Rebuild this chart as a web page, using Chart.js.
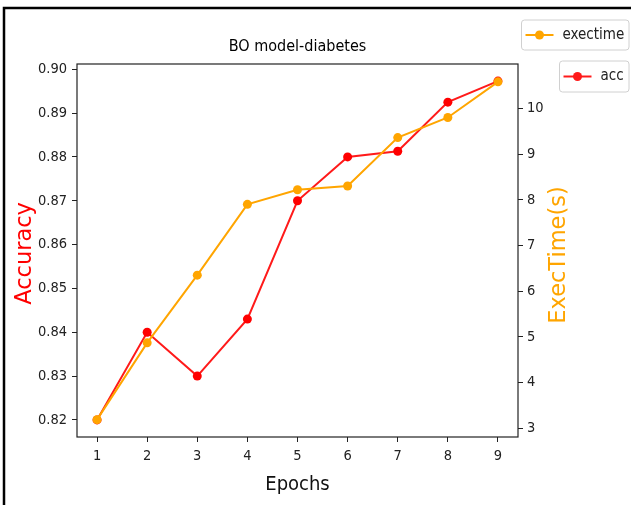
<!DOCTYPE html>
<html>
<head>
<meta charset="utf-8">
<script src="https://cdn.jsdelivr.net/npm/chart.js@4.4.0/dist/chart.umd.min.js"></script>
<style>
  body { margin: 0; background: #fff; }
  canvas { display: block; }
</style>
</head>
<body>
<canvas id="chart" width="631" height="505"></canvas>
<script>
const epochs    = [1, 2, 3, 4, 5, 6, 7, 8, 9]
const accuracy  = [0.820, 0.840, 0.830, 0.843, 0.870, 0.880, 0.8813, 0.8925, 0.8973]
const execTime  = [3.19, 4.87, 6.35, 7.90, 8.22, 8.30, 9.36, 9.80, 10.58]
const accTicks  = [0.82, 0.83, 0.84, 0.85, 0.86, 0.87, 0.88, 0.89, 0.90]
const timeTicks = [3, 4, 5, 6, 7, 8, 9, 10]

const RED = '#ff1a1a'
const ORANGE = '#ffa500'
const FONT = "'DejaVu Sans Condensed', 'DejaVu Sans', sans-serif"
const WIDE = "'DejaVu Sans', sans-serif"

Chart.defaults.font.family = FONT
Chart.defaults.color = '#222'

// title, outer frame, axes box, y axis titles and the two legends
const decor = {
    id: 'decor',
    afterDraw(chart) {
        const { ctx, chartArea: a } = chart
        ctx.save()

        ctx.strokeStyle = '#000'
        ctx.lineWidth = 2.5
        ctx.beginPath()
        ctx.moveTo(4, 505)
        ctx.lineTo(4, 8)
        ctx.lineTo(631, 8)
        ctx.stroke()

        ctx.strokeStyle = '#222'
        ctx.lineWidth = 1.2
        ctx.strokeRect(a.left, a.top, a.right - a.left, a.bottom - a.top)

        ctx.fillStyle = '#000'
        ctx.font = `16px ${FONT}`
        ctx.textAlign = 'center'
        ctx.textBaseline = 'middle'
        ctx.fillText('BO model-diabetes', (a.left + a.right) / 2, 47)

        drawVertical(ctx, 'Accuracy', '#ff0000', 31, 253.5)
        drawVertical(ctx, 'ExecTime(s)', ORANGE, 565, 255)

        drawLegend(ctx, 521.5, 20, 107.5, 30, ORANGE, 'exectime')
        drawLegend(ctx, 559.5, 61, 69.5, 31, RED, 'acc')
        ctx.restore()
    }
}

function drawVertical(ctx, text, color, x, y) {
    ctx.save()
    ctx.translate(x, y)
    ctx.rotate(-Math.PI / 2)
    ctx.fillStyle = color
    ctx.font = `22.5px ${WIDE}`
    ctx.textAlign = 'center'
    ctx.textBaseline = 'alphabetic'
    ctx.fillText(text, 0, 0)
    ctx.restore()
}

function drawLegend(ctx, x, y, w, h, color, label) {
    ctx.fillStyle = 'rgba(255,255,255,0.8)'
    ctx.strokeStyle = '#d0d0d0'
    ctx.lineWidth = 1
    ctx.beginPath()
    ctx.roundRect(x, y, w, h, 3)
    ctx.fill()
    ctx.stroke()

    const cy = y + h / 2
    ctx.strokeStyle = color
    ctx.lineWidth = 2
    ctx.beginPath()
    ctx.moveTo(x + 4, cy)
    ctx.lineTo(x + 32, cy)
    ctx.stroke()
    ctx.fillStyle = color
    ctx.beginPath()
    ctx.arc(x + 18, cy, 4.5, 0, Math.PI * 2)
    ctx.fill()

    ctx.fillStyle = '#222'
    ctx.font = `15px ${FONT}`
    ctx.textAlign = 'left'
    ctx.textBaseline = 'middle'
    ctx.fillText(label, x + 41, cy)
}

const tickGrid = {
    display: true,
    drawOnChartArea: false,
    drawTicks: true,
    tickLength: 5,
    tickColor: '#222',
    tickWidth: 1
}

new Chart(document.getElementById('chart'), {
    type: 'line',
    data: {
        datasets: [
            {
                label: 'exectime',
                data: epochs.map((e, i) => ({ x: e, y: execTime[i] })),
                yAxisID: 'yTime',
                borderColor: ORANGE,
                backgroundColor: ORANGE,
                borderWidth: 2,
                pointRadius: 4.5,
                pointBorderWidth: 0,
                tension: 0
            },
            {
                label: 'acc',
                data: epochs.map((e, i) => ({ x: e, y: accuracy[i] })),
                yAxisID: 'yAcc',
                borderColor: RED,
                backgroundColor: '#ff0000',
                borderWidth: 2,
                pointRadius: 4.5,
                pointBorderWidth: 0,
                tension: 0
            }
        ]
    },
    options: {
        responsive: false,
        animation: false,
        layout: { padding: { top: 64, left: 0, right: 0, bottom: 0 } },
        plugins: {
            legend: { display: false },
            title: { display: false },
            tooltip: { enabled: false }
        },
        scales: {
            x: {
                type: 'linear',
                min: 0.6,
                max: 9.4,
                afterBuildTicks: s => { s.ticks = epochs.map(v => ({ value: v })) },
                afterFit: s => { s.height = 68 },
                grid: tickGrid,
                border: { display: false },
                ticks: { font: { size: 14.5 }, padding: 6 },
                title: {
                    display: true,
                    text: 'Epochs',
                    color: '#111',
                    font: { size: 20 },
                    padding: { top: 0, bottom: 8 }
                }
            },
            yAcc: {
                type: 'linear',
                position: 'left',
                min: 0.8161,
                max: 0.9012,
                afterBuildTicks: s => { s.ticks = accTicks.map(v => ({ value: v })) },
                afterFit: s => { s.width = 77 },
                grid: tickGrid,
                border: { display: false },
                ticks: {
                    font: { size: 14.5 },
                    padding: 5,
                    callback: v => v.toFixed(2)
                }
            },
            yTime: {
                type: 'linear',
                position: 'right',
                min: 2.81,
                max: 10.97,
                afterBuildTicks: s => { s.ticks = timeTicks.map(v => ({ value: v })) },
                afterFit: s => { s.width = 113 },
                grid: tickGrid,
                border: { display: false },
                ticks: { font: { size: 14.5 }, padding: 4 }
            }
        }
    },
    plugins: [decor]
})
</script>
</body>
</html>
